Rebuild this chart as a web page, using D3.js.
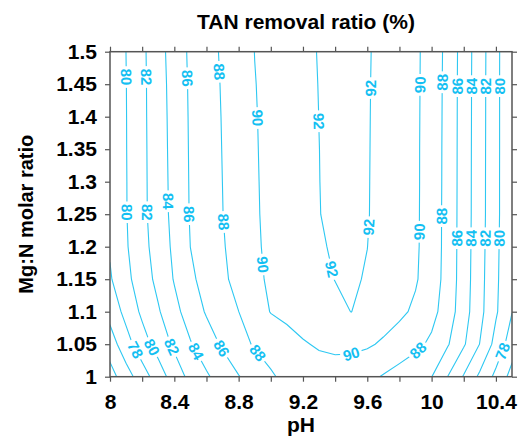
<!DOCTYPE html>
<html>
<head>
<meta charset="utf-8">
<script src="https://cdn.jsdelivr.net/npm/d3@7"></script>
<style>
body { margin: 0; background: #fff; }
svg { display: block; font-family: Arial, "Liberation Sans", sans-serif; }
</style>
</head>
<body>
<svg id="chart" width="518" height="439"></svg>
<script>
"use strict";

// grid of the response surface
const phGrid = [8.0, 8.1, 8.2, 8.3, 8.4, 8.5, 8.6, 8.7, 8.8, 8.9, 9.0, 9.1, 9.2,
	9.3, 9.4, 9.5, 9.6, 9.7, 9.8, 9.9, 10.0, 10.1, 10.2, 10.3, 10.4, 10.5];
const ratioGrid = [1.0, 1.05, 1.1, 1.15, 1.2, 1.25, 1.3, 1.35, 1.4, 1.45, 1.5];

// TAN removal ratio (%), one row per Mg:N ratio
const tan100 = [73.2, 75.13, 77.07, 79.0, 80.93, 82.54, 83.75, 84.85, 85.92, 86.85, 87.77, 88.48, 88.94, 89.17, 89.17, 88.94, 88.49, 87.86, 87.25, 86.64, 86.04, 83.98, 81.84, 79.6, 77.52, 75.3];
const tan105 = [75.0, 77.22, 79.16, 80.81, 82.36, 83.86, 85.08, 86.25, 87.32, 88.2, 88.75, 89.29, 89.84, 90.2, 90.4, 90.45, 90.25, 89.74, 89.11, 88.47, 87.64, 86.17, 84.23, 81.95, 79.32, 77.0];
const tan110 = [76.7, 78.6, 80.37, 81.8, 83.43, 84.89, 86.18, 87.08, 87.99, 89.1, 90.07, 90.46, 90.84, 91.23, 91.61, 92.02, 91.46, 90.92, 90.38, 89.67, 88.6, 87.05, 84.83, 82.58, 80.24, 78.05];
const tan115 = [77.8, 79.49, 81.02, 82.53, 84.13, 85.63, 86.7, 87.64, 88.61, 89.62, 90.27, 90.72, 91.16, 91.6, 92.03, 92.19, 91.89, 91.31, 90.74, 90.18, 89.0, 87.27, 84.97, 82.67, 80.37, 78.15];
const tan120 = [78.2, 79.81, 81.35, 82.87, 84.39, 86.01, 86.92, 87.84, 88.79, 89.75, 90.36, 90.84, 91.32, 91.8, 92.21, 92.3, 92.01, 91.43, 90.84, 90.26, 89.11, 87.3, 85.01, 82.74, 80.44, 78.2];
const tan125 = [78.3, 79.91, 81.52, 83.03, 84.56, 86.13, 87.05, 87.97, 88.89, 89.81, 90.41, 90.92, 91.44, 91.96, 92.34, 92.38, 92.08, 91.49, 90.88, 90.28, 89.13, 87.31, 85.04, 82.8, 80.51, 78.25];
const tan130 = [78.32, 79.92, 81.53, 83.06, 84.61, 86.16, 87.09, 88.01, 88.93, 89.84, 90.43, 90.94, 91.46, 91.98, 92.35, 92.39, 92.09, 91.5, 90.89, 90.29, 89.15, 87.33, 85.05, 82.81, 80.51, 78.25];
const tan135 = [78.33, 79.94, 81.54, 83.1, 84.66, 86.19, 87.12, 88.05, 88.97, 89.87, 90.45, 90.96, 91.48, 91.99, 92.36, 92.39, 92.1, 91.51, 90.9, 90.29, 89.16, 87.34, 85.06, 82.82, 80.52, 78.25];
const tan140 = [78.35, 79.95, 81.56, 83.13, 84.71, 86.22, 87.16, 88.09, 89.0, 89.9, 90.47, 90.98, 91.5, 92.01, 92.37, 92.4, 92.11, 91.52, 90.91, 90.3, 89.18, 87.36, 85.07, 82.84, 80.52, 78.25];
const tan145 = [78.37, 79.97, 81.57, 83.17, 84.78, 86.26, 87.21, 88.15, 89.05, 89.95, 90.49, 91.0, 91.52, 92.04, 92.38, 92.41, 92.12, 91.54, 90.92, 90.31, 89.2, 87.38, 85.08, 82.85, 80.52, 78.25];
const tan150 = [78.4, 80.01, 81.6, 83.25, 84.9, 86.33, 87.3, 88.24, 89.14, 90.02, 90.54, 91.05, 91.57, 92.08, 92.4, 92.42, 92.14, 91.56, 90.94, 90.32, 89.23, 87.42, 85.1, 82.88, 80.53, 78.25];

const levels = [74, 76, 78, 80, 82, 84, 86, 88, 90, 92];

// inline contour labels (level, pH, Mg:N)
const labelLevel = [80, 82, 86, 88, 90, 92, 92, 90, 88, 86, 84, 82, 80,
	80, 82, 84, 86, 88, 90, 92, 92, 90, 88, 86, 84, 82, 80,
	78, 80, 82, 84, 86, 88, 90, 88, 78];
const labelPh = [8.099, 8.224, 8.466, 8.677, 8.907, 9.298, 9.627, 9.952, 10.076, 10.16, 10.25, 10.34, 10.422,
	8.106, 8.23, 8.363, 8.486, 8.704, 8.925, 9.354, 9.615, 9.932, 10.071, 10.155, 10.247, 10.332, 10.422,
	8.149, 8.267, 8.385, 8.528, 8.696, 8.901, 9.503, 9.913, 10.422];
const labelRatio = [1.461, 1.461, 1.459, 1.469, 1.398, 1.393, 1.444, 1.449, 1.453, 1.447, 1.447, 1.447, 1.447,
	1.253, 1.253, 1.27, 1.25, 1.238, 1.172, 1.164, 1.23, 1.223, 1.247, 1.213, 1.213, 1.213, 1.213,
	1.04, 1.046, 1.046, 1.038, 1.044, 1.033, 1.033, 1.041, 1.041];

const xTicks = [8, 8.2, 8.4, 8.6, 8.8, 9, 9.2, 9.4, 9.6, 9.8, 10, 10.2, 10.4];
const xTickLabels = ["8", "", "8.4", "", "8.8", "", "9.2", "", "9.6", "", "10", "", "10.4"];
const yTicks = [1, 1.05, 1.1, 1.15, 1.2, 1.25, 1.3, 1.35, 1.4, 1.45, 1.5];
const yTickLabels = ["1", "1.05", "1.1", "1.15", "1.2", "1.25", "1.3", "1.35", "1.4", "1.45", "1.5"];

const lineColor = "#2ec8f2";
const textColor = "#14bff2";
const axisColor = "#555";

const svg = d3.select("#chart");
const plot = { left: 110, right: 512, top: 51.7, bottom: 376.7 };

const x = d3.scaleLinear().domain([8, 10.5]).range([plot.left, plot.right]);
const y = d3.scaleLinear().domain([1, 1.5]).range([plot.bottom, plot.top]);

// grid index -> data -> pixel
const nx = phGrid.length, ny = ratioGrid.length;
const gx = d3.scaleLinear().domain([0.5, nx - 0.5]).range([x(phGrid[0]), x(phGrid[nx - 1])]);
const gy = d3.scaleLinear().domain([0.5, ny - 0.5]).range([y(ratioGrid[0]), y(ratioGrid[ny - 1])]);

const values = [tan100, tan105, tan110, tan115, tan120, tan125, tan130, tan135, tan140, tan145, tan150].flat();

const contours = d3.contours().size([nx, ny]).thresholds(levels)(values);

const path = d3.geoPath(d3.geoTransform({
	point: function (px, py) { this.stream.point(gx(px), gy(py)); }
}));

const defs = svg.append("defs");
defs.append("clipPath").attr("id", "plotClip")
	.append("rect")
	.attr("x", plot.left).attr("y", plot.top)
	.attr("width", plot.right - plot.left).attr("height", plot.bottom - plot.top);
const mask = defs.append("mask").attr("id", "labelGaps")
	.attr("maskUnits", "userSpaceOnUse")
	.attr("x", 0).attr("y", 0).attr("width", 518).attr("height", 439);
mask.append("rect").attr("width", 518).attr("height", 439).attr("fill", "white");

const layerLines = svg.append("g").attr("clip-path", "url(#plotClip)")
	.append("g").attr("mask", "url(#labelGaps)");

layerLines.selectAll("path")
	.data(contours)
	.enter()
	.append("path")
	.attr("d", path)
	.attr("fill", "none")
	.attr("stroke", lineColor)
	.attr("stroke-width", 1.1);

// find closest point on a contour and its local direction
function nearest(geom, px, py) {
	let best = null;
	geom.coordinates.forEach((poly) => poly.forEach((ring) => {
		const pts = ring.map((p) => [gx(p[0]), gy(p[1])]);
		for (let i = 0; i < pts.length - 1; i++) {
			const ax = pts[i][0], ay = pts[i][1];
			const dx = pts[i + 1][0] - ax, dy = pts[i + 1][1] - ay;
			const len2 = dx * dx + dy * dy;
			if (len2 < 1e-9) continue;
			let t = ((px - ax) * dx + (py - ay) * dy) / len2;
			t = Math.max(0, Math.min(1, t));
			const qx = ax + t * dx, qy = ay + t * dy;
			const d = (qx - px) * (qx - px) + (qy - py) * (qy - py);
			if (!best || d < best.d) best = { d: d, x: qx, y: qy, dx: dx, dy: dy };
		}
	}));
	return best;
}

const labels = labelLevel.map((lv, i) => {
	const c = contours[levels.indexOf(lv)];
	const n = nearest(c, x(labelPh[i]), y(labelRatio[i]));
	let a = Math.atan2(n.dy, n.dx) * 180 / Math.PI;
	if (a > 90) a -= 180;
	if (a <= -90) a += 180;
	// steep labels: left flank reads downward, right flank reads upward
	if (Math.abs(a) > 60) {
		const up = labelPh[i] > 9.5;
		if (up && a > 0) a -= 180;
		if (!up && a < 0) a += 180;
	}
	return { text: String(lv), x: n.x, y: n.y, angle: a };
});

const layerLabels = svg.append("g");
const texts = layerLabels.selectAll("text")
	.data(labels)
	.enter()
	.append("text")
	.attr("transform", (d) => `translate(${d.x},${d.y}) rotate(${d.angle})`)
	.attr("text-anchor", "middle")
	.attr("dy", "0.36em")
	.attr("font-size", 15)
	.attr("font-weight", "bold")
	.attr("fill", textColor)
	.text((d) => d.text);

texts.each(function (d) {
	const w = this.getComputedTextLength() + 5;
	mask.append("rect")
		.attr("x", -w / 2).attr("y", -6)
		.attr("width", w).attr("height", 12)
		.attr("fill", "black")
		.attr("transform", `translate(${d.x},${d.y}) rotate(${d.angle})`);
});

// axes
const axisFont = (g) => {
	g.selectAll(".domain").remove();
	g.selectAll("line").attr("stroke", axisColor).attr("stroke-width", 1.2);
	g.selectAll("text").attr("fill", "#000").attr("font-size", 21)
		.attr("font-weight", "bold").attr("font-family", "Arial, 'Liberation Sans', sans-serif");
};

svg.append("g")
	.attr("transform", `translate(0,${plot.bottom})`)
	.call(d3.axisBottom(x).tickValues(xTicks).tickSize(5).tickPadding(12)
		.tickFormat((d, i) => xTickLabels[i]))
	.call(axisFont);
svg.append("g")
	.attr("transform", `translate(0,${plot.top})`)
	.call(d3.axisTop(x).tickValues(xTicks).tickSize(5).tickFormat(""))
	.call(axisFont);
svg.append("g")
	.attr("transform", `translate(${plot.left},0)`)
	.call(d3.axisLeft(y).tickValues(yTicks).tickSize(5).tickPadding(8)
		.tickFormat((d, i) => yTickLabels[i]))
	.call(axisFont);
svg.append("g")
	.attr("transform", `translate(${plot.right},0)`)
	.call(d3.axisRight(y).tickValues(yTicks).tickSize(5).tickFormat(""))
	.call(axisFont);

svg.append("rect")
	.attr("x", plot.left).attr("y", plot.top)
	.attr("width", plot.right - plot.left).attr("height", plot.bottom - plot.top)
	.attr("fill", "none").attr("stroke", axisColor).attr("stroke-width", 1.5);

// titles
svg.append("text")
	.attr("x", 306).attr("y", 29)
	.attr("text-anchor", "middle")
	.attr("font-size", 21).attr("font-weight", "bold")
	.text("TAN removal ratio (%)");
svg.append("text")
	.attr("x", 301).attr("y", 432)
	.attr("text-anchor", "middle")
	.attr("font-size", 21).attr("font-weight", "bold")
	.text("pH");
svg.append("text")
	.attr("transform", `translate(33,${(plot.top + plot.bottom) / 2}) rotate(-90)`)
	.attr("text-anchor", "middle")
	.attr("font-size", 20).attr("font-weight", "bold")
	.text("Mg:N molar ratio");
</script>
</body>
</html>
